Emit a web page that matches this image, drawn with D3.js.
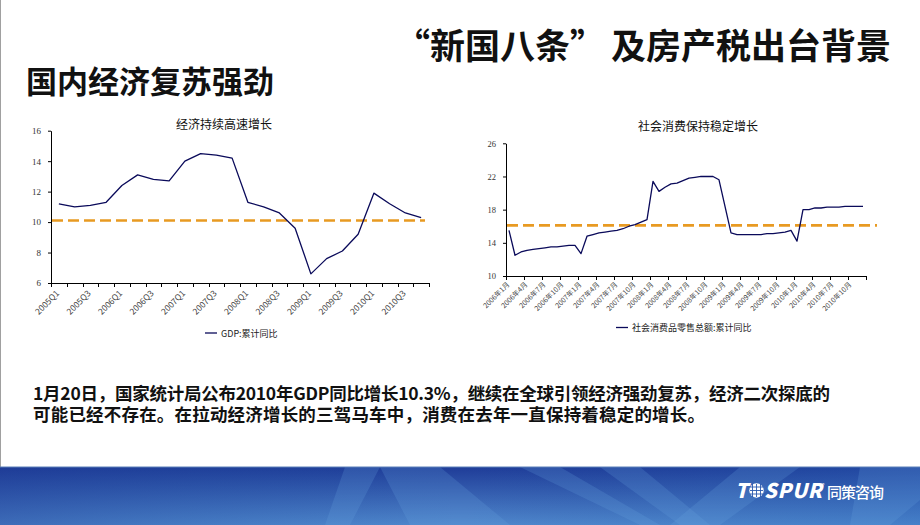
<!DOCTYPE html>
<html><head><meta charset="utf-8">
<script src="https://cdn.jsdelivr.net/npm/d3@7"></script>
<style>
html,body{margin:0;padding:0;background:#fff;}
svg{display:block;}
text{font-family:"Noto Sans CJK SC","Noto Sans",sans-serif;}
</style></head>
<body>
<svg id="chart" width="920" height="525"></svg>
<script>
// ---------- DATA ----------
const gdpQuarters = ['2005Q1','2005Q2','2005Q3','2005Q4','2006Q1','2006Q2','2006Q3','2006Q4',
  '2007Q1','2007Q2','2007Q3','2007Q4','2008Q1','2008Q2','2008Q3','2008Q4',
  '2009Q1','2009Q2','2009Q3','2009Q4','2010Q1','2010Q2','2010Q3','2010Q4'];
const gdpValues = [11.2,11.0,11.1,11.3,12.4,13.1,12.8,12.7,14.0,14.5,14.4,14.2,
  11.3,11.0,10.6,9.6,6.6,7.6,8.1,9.2,11.9,11.2,10.6,10.3];
const gdpTickLabels = ['2005Q1','2005Q3','2006Q1','2006Q3','2007Q1','2007Q3','2008Q1','2008Q3','2009Q1','2009Q3','2010Q1','2010Q3'];
const gdpYTicks = [6,8,10,12,14,16];
const gdpReference = 10.1;

const retailYears = [2006,2007,2008,2009,2010];
const retailMonths = [1,2,3,4,5,6,7,8,9,10,11,12];
const retailValues = [
  15.5,12.5,12.9,13.1,13.2,13.3,13.4,13.5,13.5,13.6,13.7,13.7,
  12.7,14.8,15.0,15.2,15.3,15.4,15.5,15.7,16.0,16.2,16.5,16.8,
  21.4,20.2,20.7,21.1,21.2,21.5,21.8,21.9,22.0,22.0,22.0,21.6,
  18.4,15.2,15.0,15.0,15.0,15.0,15.0,15.1,15.1,15.2,15.3,15.5,
  14.2,18.0,18.0,18.2,18.2,18.3,18.3,18.3,18.4,18.4,18.4,18.4];
const retailTickLabels = ['2006年1月','2006年4月','2006年7月','2006年10月','2007年1月','2007年4月','2007年7月','2007年10月',
  '2008年1月','2008年4月','2008年7月','2008年10月','2009年1月','2009年4月','2009年7月','2009年10月',
  '2010年1月','2010年4月','2010年7月','2010年10月'];
const retailYTicks = [10,14,18,22,26];
const retailReference = 16.1;

const pageTitleA = '“新国八条”';
const pageTitleB = '及房产税出台背景';
const subTitle = '国内经济复苏强劲';
const chart1Title = '经济持续高速增长';
const chart2Title = '社会消费保持稳定增长';
const legend1 = 'GDP:累计同比';
const legend2 = '社会消费品零售总额:累计同比';
const bodyLines = ['1月20日，国家统计局公布2010年GDP同比增长10.3%，继续在全球引领经济强劲复苏，经济二次探底的',
  '可能已经不存在。在拉动经济增长的三驾马车中，消费在去年一直保持着稳定的增长。'];

const retailCats = [];
retailYears.forEach(y => retailMonths.forEach(m => retailCats.push(y + '年' + m + '月')));

// ---------- DRAW ----------
const svg = d3.select('#chart');
const defs = svg.append('defs');

svg.append('rect').attr('x',0).attr('y',0).attr('width',920).attr('height',525).attr('fill','#fff');
svg.append('line').attr('x1',0.5).attr('x2',0.5).attr('y1',0).attr('y2',467).attr('stroke','#a0a0a0');

// footer band
const fg = defs.append('linearGradient').attr('id','foot').attr('x1',0).attr('y1',0).attr('x2',0).attr('y2',1);
fg.append('stop').attr('offset','0%').attr('stop-color','#1f3c98');
fg.append('stop').attr('offset','100%').attr('stop-color','#4f87cc');
const fg2 = defs.append('linearGradient').attr('id','foot2').attr('x1',0).attr('y1',0).attr('x2',1).attr('y2',0);
fg2.append('stop').attr('offset','0%').attr('stop-color','#1c3a94').attr('stop-opacity',0.35);
fg2.append('stop').attr('offset','50%').attr('stop-color','#1c5aa8').attr('stop-opacity',0.0);
fg2.append('stop').attr('offset','100%').attr('stop-color','#2a6cc0').attr('stop-opacity',0.25);
svg.append('rect').attr('x',0).attr('y',467).attr('width',920).attr('height',58).attr('fill','url(#foot)');
svg.append('rect').attr('x',0).attr('y',467).attr('width',920).attr('height',58).attr('fill','url(#foot2)');
const shapes = [
  [[345,467],[380,467],[350,525],[325,525]],
  [[380,467],[440,467],[510,525],[410,525]],
  [[520,467],[560,467],[660,525],[640,525]],
  [[600,467],[640,467],[710,525],[680,525]],
  [[740,467],[800,467],[720,525],[670,525]],
  [[860,467],[920,467],[920,500],[890,525],[850,525]]
];
shapes.forEach(p => svg.append('polygon').attr('points', p.map(q=>q.join(',')).join(' '))
  .attr('fill','#6aa6e0').attr('opacity',0.22));
svg.append('line').attr('x1',0).attr('x2',920).attr('y1',467).attr('y2',467).attr('stroke','#5b7fb8').attr('stroke-width',1);

// logo
const logo = svg.append('g').attr('fill','#fff');
logo.append('text').attr('x',735).attr('y',498).attr('font-size',20).attr('font-weight',900)
  .attr('font-style','italic').attr('font-family','"Liberation Sans",Arial,sans-serif').text('T');
const gx = 756.5, gy = 490.5;
logo.append('circle').attr('cx',gx).attr('cy',gy).attr('r',7.2).attr('fill','#fff');
[-4,0,4].forEach(d => logo.append('line').attr('x1',gx+d).attr('x2',gx+d).attr('y1',gy-6.5).attr('y2',gy+6.5).attr('stroke','#2a5aae').attr('stroke-width',0.9));
[-3.5,0,3.5].forEach(d => logo.append('line').attr('x1',gx-6.5).attr('x2',gx+6.5).attr('y1',gy+d).attr('y2',gy+d).attr('stroke','#2a5aae').attr('stroke-width',0.9));
logo.append('text').attr('x',764).attr('y',498).attr('font-size',20).attr('font-weight',900)
  .attr('font-style','italic').attr('font-family','"Liberation Sans",Arial,sans-serif').attr('textLength',58).text('SPUR');
logo.append('text').attr('x',822).attr('y',487).attr('font-size',5).text('®');
logo.append('text').attr('x',827).attr('y',498).attr('font-size',15).attr('font-weight',500)
  .attr('textLength',57).text('同策咨询');

// titles
svg.append('text').attr('x',395).attr('y',59).attr('font-size',35)
  .attr('font-weight',700).attr('fill','#111').text(pageTitleA);
svg.append('text').attr('x',891).attr('y',59).attr('text-anchor','end').attr('font-size',35)
  .attr('font-weight',700).attr('fill','#111').text(pageTitleB);
svg.append('text').attr('x',26).attr('y',93).attr('font-size',31)
  .attr('font-weight',700).attr('fill','#111').text(subTitle);

// body text (one text block, two lines)
const bodyWidths = [797, 672];
const body = svg.append('text').attr('font-size',17.5).attr('font-weight',700).attr('fill','#111');
bodyLines.forEach((t,i) => body.append('tspan').attr('x',33).attr('y',400 + i*21)
  .attr('textLength',bodyWidths[i]).attr('lengthAdjust','spacing').text(t));

function drawChart(cfg){
  const g = svg.append('g');
  const x = d3.scaleBand().domain(cfg.cats).range([cfg.x0, cfg.x1]).paddingInner(0).paddingOuter(0);
  const y = d3.scaleLinear().domain(cfg.yDomain).range([cfg.yBottom, cfg.yTop]);
  g.append('line').attr('x1',cfg.x0 + 1).attr('x2',cfg.refEnd)
    .attr('y1',y(cfg.ref)).attr('y2',y(cfg.ref))
    .attr('stroke','#e89a22').attr('stroke-width',2.6).attr('stroke-dasharray','11,5');
  const ya = g.append('g').attr('transform',`translate(${cfg.x0},0)`)
    .call(d3.axisLeft(y).tickValues(cfg.yTicks).tickSize(3).tickPadding(cfg.yPad).tickSizeOuter(0));
  ya.select('.domain').attr('stroke','#000');
  ya.selectAll('.tick line').attr('stroke','#000');
  ya.selectAll('.tick text').attr('font-size',cfg.yFont).attr('fill','#333')
    .style('font-family','"Liberation Serif","Noto Sans CJK SC",serif');
  g.append('line').attr('x1',cfg.x0).attr('x2',cfg.x1).attr('y1',cfg.yBottom+0.5).attr('y2',cfg.yBottom+0.5)
    .attr('stroke','#000');
  const bounds = cfg.cats.filter((c,i)=>i % cfg.tickEvery === 0).map(c => x(c)).concat([cfg.x1]);
  g.selectAll('.xt').data(bounds).enter().append('line')
    .attr('x1',d=>Math.round(d)+0.5).attr('x2',d=>Math.round(d)+0.5)
    .attr('y1',cfg.yBottom).attr('y2',cfg.yBottom+4).attr('stroke','#000');
  g.selectAll('.xl').data(cfg.tickLabels).enter().append('text')
    .attr('transform',(d,i)=>{
      const c = cfg.cats[i*cfg.labelEvery];
      const px = x(c) + x.bandwidth()/2 + cfg.labDx;
      const py = cfg.yBottom + cfg.labDy;
      return `translate(${px},${py}) rotate(-45)`;
    })
    .attr('text-anchor','end').attr('font-size',cfg.xFont).attr('fill','#444').text(d=>d);
  const line = d3.line().x((d,i)=>x(cfg.cats[i]) + x.bandwidth()/2).y(d=>y(d));
  g.append('path').datum(cfg.values).attr('d',line).attr('fill','none')
    .attr('stroke','#0a0a5a').attr('stroke-width',1.3).attr('stroke-linejoin','round');
  g.append('text').attr('x',cfg.titleX).attr('y',cfg.titleY).attr('text-anchor','middle')
    .attr('font-size',12).attr('fill','#111').text(cfg.title);
  g.append('line').attr('x1',cfg.legX).attr('x2',cfg.legX+12).attr('y1',cfg.legY).attr('y2',cfg.legY)
    .attr('stroke','#0a0a5a').attr('stroke-width',1.3);
  g.append('text').attr('x',cfg.legX+16).attr('y',cfg.legY+3.5).attr('font-size',9).attr('fill','#222').text(cfg.legend);
}

drawChart({cats:gdpQuarters, values:gdpValues, yDomain:[6,16], yTicks:gdpYTicks, ref:gdpReference,
  x0:51, x1:429, yBottom:283, yTop:130.7, refEnd:425, yPad:7, yFont:9, xFont:8.5,
  tickEvery:1, labelEvery:2, tickLabels:gdpTickLabels, labDx:1, labDy:11,
  title:chart1Title, titleX:224, titleY:129, legX:205, legY:333, legend:legend1});

drawChart({cats:retailCats, values:retailValues, yDomain:[10,26], yTicks:retailYTicks, ref:retailReference,
  x0:506, x1:866, yBottom:276, yTop:143.3, refEnd:877, yPad:7, yFont:8.5, xFont:7,
  tickEvery:3, labelEvery:3, tickLabels:retailTickLabels, labDx:1, labDy:9,
  title:chart2Title, titleX:698, titleY:131, legX:616, legY:327.5, legend:legend2});
</script>
</body></html>
